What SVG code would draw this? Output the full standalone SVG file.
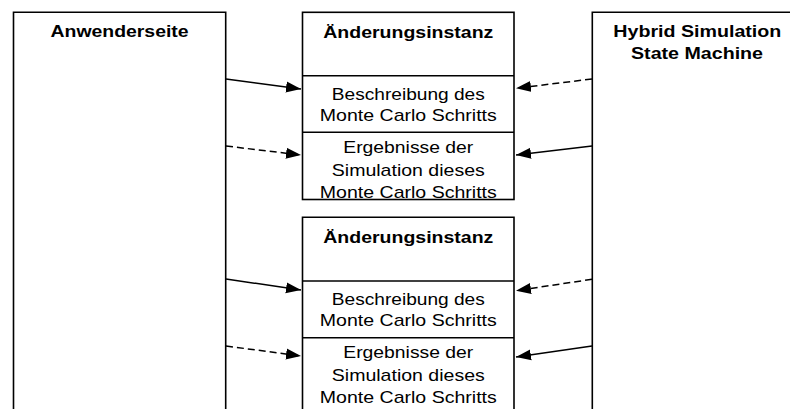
<svg xmlns="http://www.w3.org/2000/svg" width="790" height="409" viewBox="0 0 790 409">
<style>
.box{fill:#fff;stroke:#000;stroke-width:1.6}
.div{stroke:#000;stroke-width:1.6}
.t{font-family:"Liberation Sans",Arial,Helvetica,sans-serif;font-size:17px;fill:#000;text-anchor:middle}
.b{font-weight:bold;font-size:16px}
.c{stroke:#000;stroke-width:1.5;fill:none}
.d{stroke-dasharray:7 4}
</style>
<defs>
<marker id="ah" markerUnits="userSpaceOnUse" markerWidth="16" markerHeight="12" refX="15" refY="6" orient="auto" viewBox="0 0 16 12">
<path d="M0,0.5 L15,6 L0,11.5 Z" fill="#000" stroke="none"/>
</marker>
</defs>
<g id="anwenderseite">
<path class="box" d="M13.5,420 V12.3 H225.7 V420"/>
<text class="t b" x="119.6" y="37.4" textLength="138" lengthAdjust="spacingAndGlyphs">Anwenderseite</text>
</g>
<g id="hybrid">
<path class="box" d="M592.3,420 V12.3 H800"/>
<text class="t b" x="697.3" y="37" textLength="168" lengthAdjust="spacingAndGlyphs">Hybrid Simulation</text>
<text class="t b" x="697" y="59" textLength="132" lengthAdjust="spacingAndGlyphs">State Machine</text>
</g>
<g id="instanz1">
<rect class="box" x="302.5" y="12.3" width="211.5" height="187.2"/>
<line class="div" x1="302.5" y1="75.7" x2="514" y2="75.7"/>
<line class="div" x1="302.5" y1="132.3" x2="514" y2="132.3"/>
<text class="t b" x="408.3" y="37.6" textLength="170" lengthAdjust="spacingAndGlyphs">Änderungsinstanz</text>
<text class="t" x="408.3" y="100" textLength="153" lengthAdjust="spacingAndGlyphs">Beschreibung des</text>
<text class="t" x="408.3" y="121" textLength="177" lengthAdjust="spacingAndGlyphs">Monte Carlo Schritts</text>
<text class="t" x="408.3" y="153" textLength="130" lengthAdjust="spacingAndGlyphs">Ergebnisse der</text>
<text class="t" x="408.3" y="175.5" textLength="153" lengthAdjust="spacingAndGlyphs">Simulation dieses</text>
<text class="t" x="408.3" y="197.5" textLength="177" lengthAdjust="spacingAndGlyphs">Monte Carlo Schritts</text>
</g>
<g id="instanz2">
<path class="box" d="M302.5,420 V217.3 H514 V420"/>
<line class="div" x1="302.5" y1="281" x2="514" y2="281"/>
<line class="div" x1="302.5" y1="337.7" x2="514" y2="337.7"/>
<text class="t b" x="408.3" y="242.6" textLength="170" lengthAdjust="spacingAndGlyphs">Änderungsinstanz</text>
<text class="t" x="408.3" y="305.3" textLength="153" lengthAdjust="spacingAndGlyphs">Beschreibung des</text>
<text class="t" x="408.3" y="326.3" textLength="177" lengthAdjust="spacingAndGlyphs">Monte Carlo Schritts</text>
<text class="t" x="408.3" y="358.3" textLength="130" lengthAdjust="spacingAndGlyphs">Ergebnisse der</text>
<text class="t" x="408.3" y="380.8" textLength="153" lengthAdjust="spacingAndGlyphs">Simulation dieses</text>
<text class="t" x="408.3" y="402.8" textLength="177" lengthAdjust="spacingAndGlyphs">Monte Carlo Schritts</text>
</g>
<g id="connectors">
<line class="c" x1="226" y1="79" x2="301" y2="89" marker-end="url(#ah)"/>
<line class="c d" x1="226" y1="146" x2="301" y2="155" marker-end="url(#ah)"/>
<line class="c d" x1="592" y1="79" x2="516" y2="88.3" marker-end="url(#ah)"/>
<line class="c" x1="592" y1="146" x2="516" y2="155" marker-end="url(#ah)"/>
<line class="c" x1="226" y1="279" x2="301" y2="290" marker-end="url(#ah)"/>
<line class="c d" x1="226" y1="346" x2="301" y2="356" marker-end="url(#ah)"/>
<line class="c d" x1="592" y1="279.3" x2="516" y2="290.7" marker-end="url(#ah)"/>
<line class="c" x1="592" y1="346" x2="516" y2="357" marker-end="url(#ah)"/>
</g>
</svg>
